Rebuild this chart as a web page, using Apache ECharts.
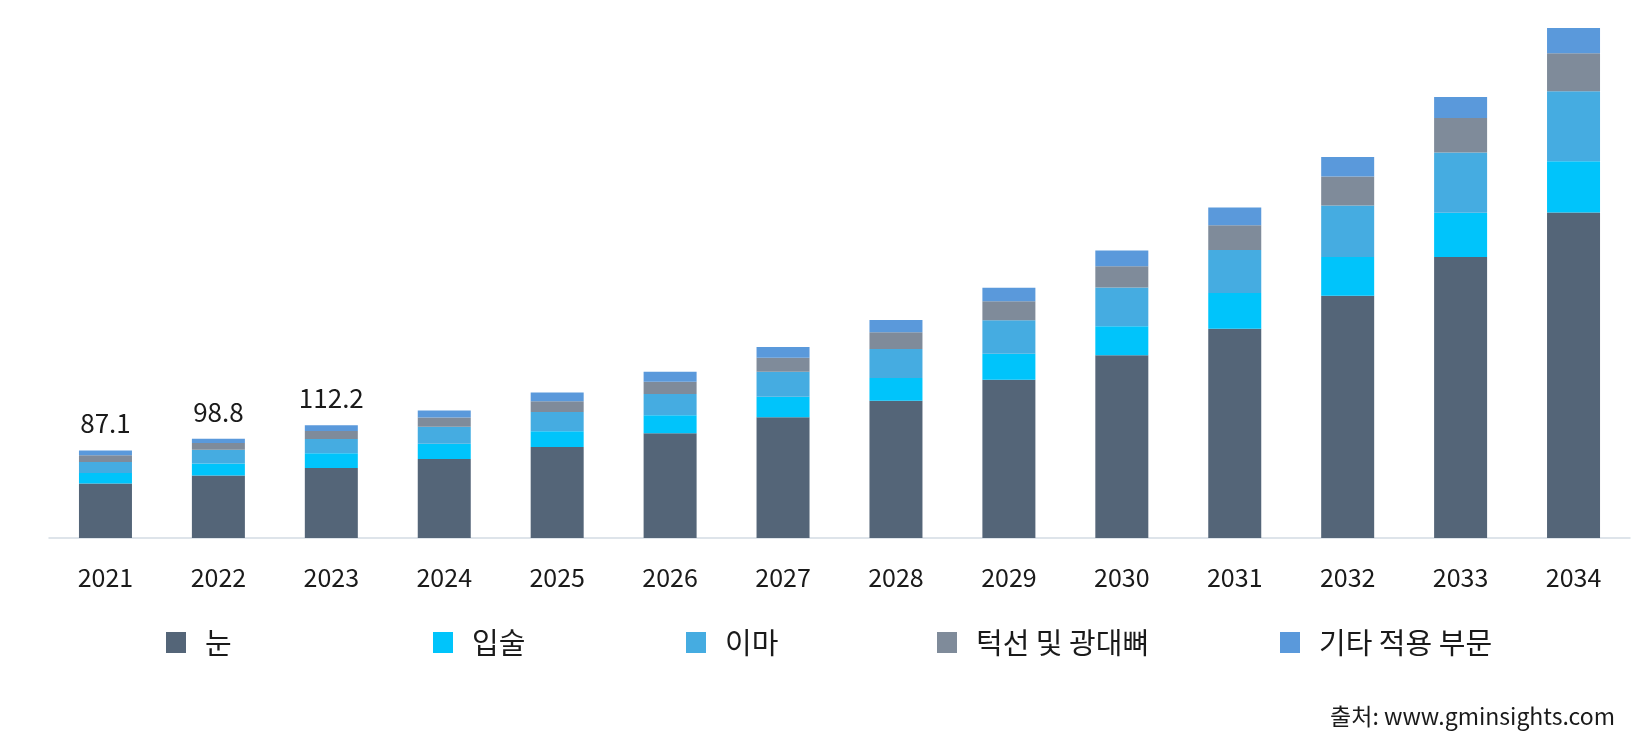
<!DOCTYPE html>
<html>
<head>
<meta charset="utf-8">
<script src="https://cdn.jsdelivr.net/npm/echarts@6/dist/echarts.min.js"></script>
<style>
html,body{margin:0;padding:0;background:#ffffff;}
#chart{width:1646px;height:742px;}
</style>
</head>
<body>
<div id="chart"></div>
<script>
const years = ['2021','2022','2023','2024','2025','2026','2027','2028','2029','2030','2031','2032','2033','2034'];
const seriesNames = ['눈','입술','이마','턱선 및 광대뼈','기타 적용 부문'];
const eyes     = [54.2, 62.2, 69.7, 78.6, 90.6, 104.2, 120.1, 136.6, 157.5, 181.8, 208.3, 241.1, 279.6, 323.8];
const lips     = [10.6, 12.0, 14.7, 15.1, 15.7, 17.9, 20.5, 22.6, 25.9, 28.9, 35.5, 38.5, 44.1, 51.1];
const forehead = [10.9, 13.6, 14.0, 17.1, 19.1, 21.2, 24.9, 28.9, 33.2, 38.5, 42.8, 51.3, 60.0, 69.7];
const jawline  = [6.6, 6.7, 8.0, 9.0, 10.7, 12.2, 13.9, 16.6, 18.9, 21.2, 24.5, 28.9, 34.2, 37.8];
const others   = [4.8, 4.3, 5.8, 7.0, 8.7, 10.0, 10.6, 12.2, 13.5, 15.6, 17.9, 19.3, 20.9, 25.1];
const totalLabels = ['87.1','98.8','112.2'];
const sourceText = '출처: www.gminsights.com';

const colors = ['#546578','#00c4fb','#45ace1','#7f8b9a','#5a99db'];
const FONT = '"Noto Sans CJK KR", "Noto Sans", sans-serif';
const dataSets = [eyes, lips, forehead, jawline, others];
const legendLefts = [166, 433, 686, 937, 1280];

const chart = echarts.init(document.getElementById('chart'));
const series = dataSets.map((d, i) => {
  const s = {
    name: seriesNames[i],
    type: 'bar',
    stack: 'total',
    barWidth: 53,
    data: d,
    itemStyle: {color: colors[i]},
    emphasis: {disabled: true}
  };
  if (i === dataSets.length - 1) {
    s.label = {
      show: true,
      position: 'top',
      distance: 14,
      fontFamily: FONT,
      fontSize: 26,
      color: '#1a1a1a',
      formatter: p => (p.dataIndex < totalLabels.length ? totalLabels[p.dataIndex] : '')
    };
  }
  return s;
});

const legends = seriesNames.map((n, i) => ({
  data: [n],
  left: legendLefts[i],
  top: 628,
  padding: 0,
  itemWidth: 20,
  itemHeight: 21,
  icon: 'rect',
  selectedMode: false,
  textStyle: {fontFamily: FONT, fontSize: 29, color: '#1a1a1a', padding: [0,0,0,14]}
}));

chart.setOption({
  backgroundColor: '#ffffff',
  animation: false,
  textStyle: {fontFamily: FONT},
  grid: {left: 49, right: 16, top: 28, bottom: 204, containLabel: false},
  legend: legends,
  xAxis: {
    type: 'category',
    data: years,
    axisLine: {show: true, lineStyle: {color: '#d3dbe3', width: 1.5}},
    axisTick: {show: false},
    axisLabel: {fontFamily: FONT, fontSize: 25, color: '#1a1a1a', margin: 27}
  },
  yAxis: {
    type: 'value',
    min: 0,
    max: 507.5,
    show: false,
    splitLine: {show: false}
  },
  graphic: [{
    type: 'text',
    right: 31,
    top: 705,
    style: {text: sourceText, fontFamily: FONT, fontSize: 23, fill: '#1a1a1a'}
  }],
  series: series
});
</script>
</body>
</html>
